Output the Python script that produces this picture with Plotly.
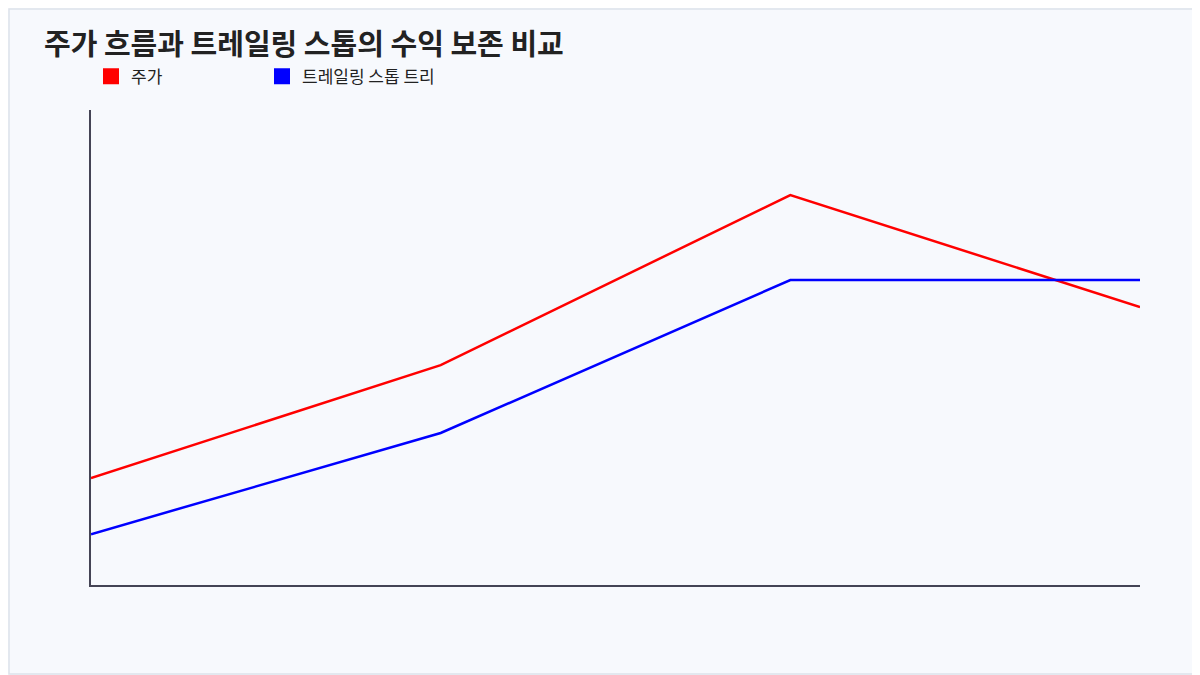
import plotly.graph_objects as go

# 구간 (x축 라벨 없음)
steps = [0, 1, 2, 3]
price = [22.5, 46.3, 82.1, 58.5]
trigger = [10.7, 32.0, 64.2, 64.2]

fig = go.Figure()
fig.add_trace(go.Scatter(x=steps, y=price, mode='lines', line=dict(color='#ff0000', width=2.5), showlegend=False))
fig.add_trace(go.Scatter(x=steps, y=trigger, mode='lines', line=dict(color='#0000ff', width=2.5), showlegend=False))
# 범례용 사각형
fig.add_trace(go.Scatter(x=[None], y=[None], mode='markers', name='주가',
                         marker=dict(symbol='square', size=22, color='#ff0000')))
fig.add_trace(go.Scatter(x=[None], y=[None], mode='markers', name='트레일링 스톱 트리거',
                         marker=dict(symbol='square', size=22, color='#0000ff')))

fig.update_xaxes(range=[0, 3], showgrid=False, zeroline=False, showticklabels=False,
                 showline=True, linecolor='#444455', linewidth=1.5)
fig.update_yaxes(range=[0, 100], showgrid=False, zeroline=False, showticklabels=False,
                 showline=True, linecolor='#444455', linewidth=1.5)

fig.update_layout(
    width=1200, height=675,
    margin=dict(l=83, r=68, t=102, b=98),
    paper_bgcolor='#f7f9fd', plot_bgcolor='#f7f9fd',
    font=dict(family='Noto Sans CJK KR', color='#222222'),
    title=dict(text='<b>주가 흐름과 트레일링 스톱의 수익 보존 비교</b>', x=0.03, y=0.945,
               xanchor='left', yanchor='middle', font=dict(size=29, color='#222222')),
    legend=dict(orientation='h', x=0.0, y=1.07, xanchor='left', yanchor='middle',
                font=dict(size=17), bgcolor='rgba(0,0,0,0)',
                entrywidth=126, entrywidthmode='pixels'),
    shapes=[dict(type='rect', xref='paper', yref='paper',
                 x0=-82/1049, x1=1 + 59/1049, y0=-89/475, y1=1 + 101/475,
                 line=dict(color='#dde2ea', width=1.5), fillcolor='rgba(0,0,0,0)')],
)

fig.write_html("out.html")
